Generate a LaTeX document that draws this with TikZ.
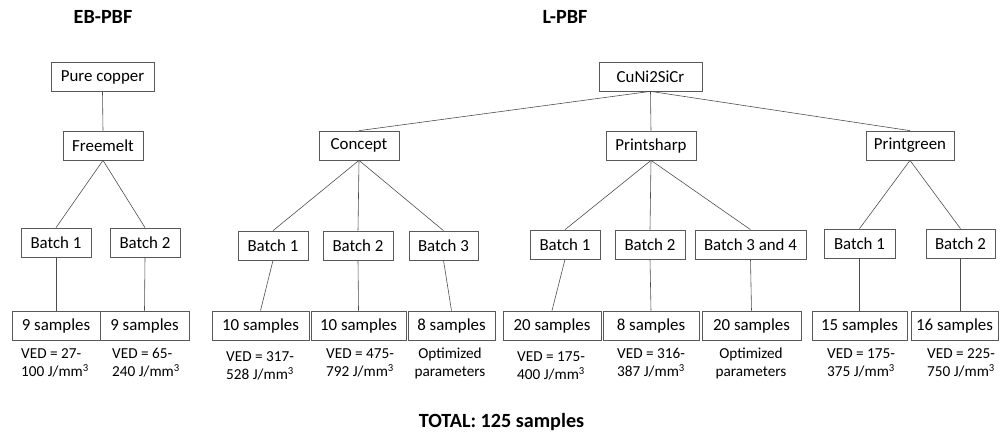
\documentclass[tikz,border=0pt]{standalone}
\usepackage{fontspec}
\setmainfont{Carlito}
\usetikzlibrary{positioning}

\begin{document}
\begin{tikzpicture}[
  x=0.03cm, y=-0.03cm,
  box/.style={rectangle, draw=black!65, line width=0.6pt, minimum height=0.87cm,
              inner sep=1pt, font=\fontsize{14.4}{16}\selectfont},
  bw/.style={minimum width=#1*0.03cm},
  note/.style={anchor=north west, align=left, inner sep=0pt,
               font=\fontsize{13}{15.5}\selectfont},
  cnote/.style={note, anchor=north, align=center},
  title/.style={font=\bfseries\fontsize{17.2}{20}\selectfont},
  link/.style={draw=black!70, line width=0.5pt}
]
\useasboundingbox (0,0) rectangle (1000,434);

% titles
\node[title] (ebtitle) at (103,17) {EB-PBF};
\node[title] (ltitle) at (565,17) {L-PBF};

% EB-PBF tree
\node[box, bw=103] (pure) at (102.5,77) {Pure copper};
\node[box, bw=80] (freemelt) at (103,145.5) {Freemelt};
\node[box, bw=70] (ebb1) at (56,242.5) {Batch 1};
\node[box, bw=70] (ebb2) at (145,242.5) {Batch 2};
\node[box, bw=88] (ebs1) at (56,325.5) {9 samples};
\node[box, bw=89] (ebs2) at (144.5,325.5) {9 samples};
\node[note] (ebv1) at (21,348) {VED = 27-\\100 J/mm\textsuperscript{3}};
\node[note] (ebv2) at (112,348) {VED = 65-\\240 J/mm\textsuperscript{3}};

% L-PBF tree
\node[box, bw=103] (cuni) at (650.5,76.5) {CuNi2SiCr};
\node[box, bw=80] (concept) at (359,145.5) {Concept};
\node[box, bw=90] (psharp) at (651,145.5) {Printsharp};
\node[box, bw=88] (pgreen) at (910,145.5) {Printgreen};

% Concept
\node[box, bw=70] (cb1) at (273,245.5) {Batch 1};
\node[box, bw=70] (cb2) at (358,245.5) {Batch 2};
\node[box, bw=69] (cb3) at (443.5,245.5) {Batch 3};
\node[box, bw=97] (cs1) at (260.5,325.5) {10 samples};
\node[box, bw=95] (cs2) at (358.5,325.5) {10 samples};
\node[box, bw=87] (cs3) at (451.5,325.5) {8 samples};
\node[note] (cv1) at (226,351) {VED = 317-\\528 J/mm\textsuperscript{3}};
\node[note] (cv2) at (326,348) {VED = 475-\\792 J/mm\textsuperscript{3}};
\node[cnote] (cv3) at (450,348) {Optimized\\parameters};

% Printsharp
\node[box, bw=70] (sb1) at (565,244.5) {Batch 1};
\node[box, bw=70] (sb2) at (650,244.5) {Batch 2};
\node[box, bw=111] (sb3) at (750.5,244.5) {Batch 3 and 4};
\node[box, bw=98] (ss1) at (552,325.5) {20 samples};
\node[box, bw=96] (ss2) at (651,325.5) {8 samples};
\node[box, bw=99] (ss3) at (751.5,325.5) {20 samples};
\node[note] (sv1) at (517,351) {VED = 175-\\400 J/mm\textsuperscript{3}};
\node[note] (sv2) at (617,348) {VED = 316-\\387 J/mm\textsuperscript{3}};
\node[cnote] (sv3) at (751,348) {Optimized\\parameters};

% Printgreen
\node[box, bw=71] (gb1) at (859.5,243.5) {Batch 1};
\node[box, bw=69] (gb2) at (960.5,243.5) {Batch 2};
\node[box, bw=95] (gs1) at (859.5,325.5) {15 samples};
\node[box, bw=87] (gs2) at (954.5,325.5) {16 samples};
\node[note] (gv1) at (827,348) {VED = 175-\\375 J/mm\textsuperscript{3}};
\node[note] (gv2) at (927,348) {VED = 225-\\750 J/mm\textsuperscript{3}};

\node[title] (total) at (501.5,422) {TOTAL: 125 samples};

% connectors
\draw[link] (pure.south) -- (freemelt.north);
\draw[link] (freemelt.south) -- (ebb1.north);
\draw[link] (freemelt.south) -- (ebb2.north);
\draw[link] (ebb1.south) -- (ebs1.north);
\draw[link] (ebb2.south) -- (ebs2.north);

\foreach \t in {concept, psharp, pgreen}
  \draw[link] (cuni.south) -- (\t.north);
\foreach \t in {cb1, cb2, cb3}
  \draw[link] (concept.south) -- (\t.north);
\foreach \t in {sb1, sb2, sb3}
  \draw[link] (psharp.south) -- (\t.north);
\foreach \t in {gb1, gb2}
  \draw[link] (pgreen.south) -- (\t.north);

\draw[link] (cb1.south) -- (cs1.north);
\draw[link] (cb2.south) -- (cs2.north);
\draw[link] (cb3.south) -- (cs3.north);
\draw[link] (sb1.south) -- (ss1.north);
\draw[link] (sb2.south) -- (ss2.north);
\draw[link] (sb3.south) -- (ss3.north);
\draw[link] (gb1.south) -- (gs1.north);
\draw[link] (gb2.south) -- (gb2.south |- gs2.north);
\end{tikzpicture}
\end{document}
